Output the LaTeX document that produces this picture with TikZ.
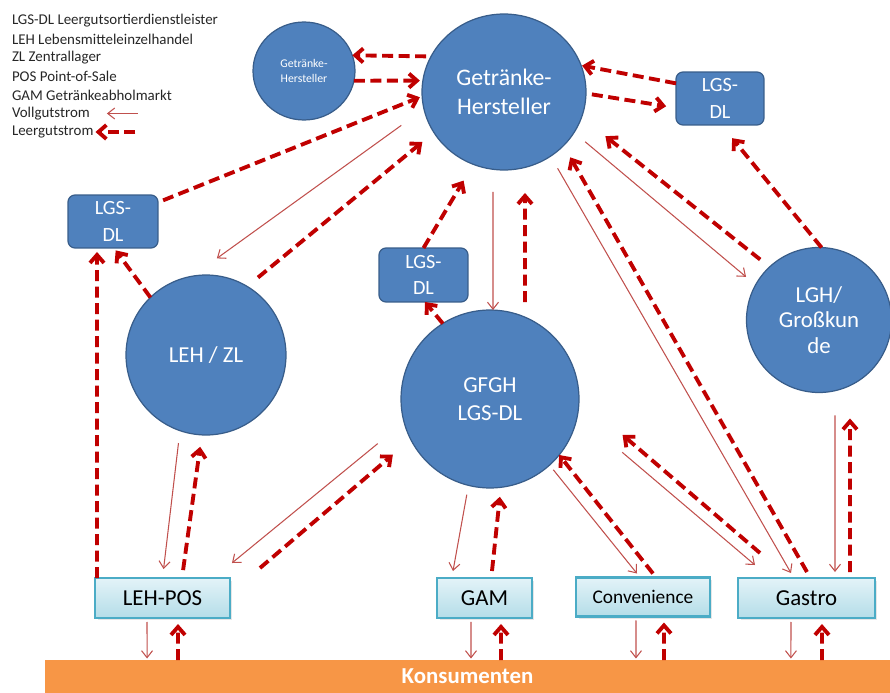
\documentclass[tikz,border=0pt]{standalone}
\usepackage{fontspec}
\setmainfont{Carlito}
\usepackage{tikz}
\usetikzlibrary{arrows.meta,shapes.geometric,shadows}

\definecolor{kreisblau}{HTML}{4F81BD}
\definecolor{kreisrand}{HTML}{385D8A}
\definecolor{leerrot}{HTML}{C00000}
\definecolor{vollrot}{HTML}{C0504D}
\definecolor{posrand}{HTML}{4BACC6}
\definecolor{posoben}{HTML}{E3F3F8}
\definecolor{posunten}{HTML}{B4DDE8}
\definecolor{konsorange}{HTML}{F79646}
\definecolor{legtext}{HTML}{262626}

\newcommand{\sgr}[2]{\fontsize{#1}{#2}\selectfont}

\begin{document}
\begin{tikzpicture}[x=0.02cm, y=-0.02cm]
        \tikzstyle{every node}+=[inner sep=0pt, outer sep=0pt]
        \tikzstyle{kreis}=[ellipse, draw=kreisrand, fill=kreisblau, line width=0.7pt, text=white, align=center]
        \tikzstyle{dlbox}=[rectangle, rounded corners=1.4mm, draw=kreisrand, fill=kreisblau, line width=0.7pt, text=white, align=center, minimum height=1.06cm, font=\sgr{11.5}{15}]
        \tikzstyle{posbox}=[rectangle, draw=posrand, line width=1.2pt, top color=posoben, bottom color=posunten, minimum height=0.8cm, font=\sgr{13}{15}, text=black, drop shadow={opacity=0.2, shadow xshift=0.5mm, shadow yshift=-0.5mm}]
        \tikzstyle{legende}=[anchor=west, text=legtext, font=\sgr{8.5}{10}]
        \tikzstyle{voll}=[vollrot, line width=0.6pt, -{Straight Barb[length=1.4mm,width=2.2mm]}]
        \tikzstyle{leer}=[leerrot, line width=2.2pt, dash pattern=on 2.2mm off 1.1mm, -{Straight Barb[length=1.6mm,width=2.8mm]}]
        \useasboundingbox (0,0) rectangle (890,693);
        \node[legende] (l1) at (12,21) {LGS-DL Leergutsortierdienstleister};
        \node[legende] (l2) at (12,39.5) {LEH Lebensmitteleinzelhandel};
        \node[legende] (l3) at (12,58) {ZL Zentrallager};
        \node[legende] (l4) at (12,76.5) {POS Point-of-Sale};
        \node[legende] (l5) at (12,95) {GAM Getränkeabholmarkt};
        \node[legende] (lv) at (12,113.5) {Vollgutstrom};
        \node[legende] (ll) at (12,132) {Leergutstrom};
        \draw[voll] ([xshift=9.6mm]lv.east) -- ([xshift=3.4mm]lv.east);
        \draw[leer] ([xshift=8.4mm]ll.east) -- ([xshift=0.4mm]ll.east);
        \node[kreis, minimum width=2.04cm, minimum height=1.96cm, font=\sgr{6.7}{9}] (ghs) at (304,71) {Getränke-\\Hersteller};
        \node[kreis, minimum width=3.28cm, minimum height=3.12cm, font=\sgr{13.5}{16.5}] (gh) at (504,92) {Getränke-\\Hersteller};
        \node[dlbox, minimum width=1.76cm] (dlr) at (720,98.5) {LGS-\\DL};
        \node[dlbox, minimum width=1.8cm] (dll) at (113,221.5) {LGS-\\DL};
        \node[dlbox, minimum width=1.78cm, minimum height=1.08cm] (dlm) at (423.5,275) {LGS-\\DL};
        \node[kreis, minimum width=3.2cm, minimum height=3.2cm, font=\sgr{13}{16}] (lehzl) at (206,355) {LEH / ZL};
        \node[kreis, minimum width=3.56cm, minimum height=3.56cm, font=\sgr{13}{16}] (gfgh) at (490,399) {GFGH\\LGS-DL};
        \node[kreis, minimum width=2.9cm, minimum height=2.9cm, font=\sgr{13}{14.7}] (lgh) at (819,320) {LGH/\\Großkun\\de};
        \node[posbox, minimum width=2.7cm] (pos) at (162.5,598) {LEH-POS};
        \node[posbox, minimum width=1.9cm] (gam) at (484.5,598) {GAM};
        \node[posbox, minimum width=2.68cm, minimum height=0.78cm, font=\sgr{11}{13}] (conv) at (643,597) {Convenience};
        \node[posbox, minimum width=2.74cm] (gastro) at (806.5,598) {Gastro};
        \node[fill=konsorange, minimum width=16.9cm, minimum height=0.66cm, text=white, font=\sgr{13}{15}\bfseries] (kons) at (467.5,676.5) {Konsumenten};
        \draw[leer, shorten <=1mm] (gh.154) -- (ghs.18);
        \draw[leer, shorten >=0.6mm] (ghs.-11) -- (gh.172);
        \draw[leer, shorten <=1.1mm, shorten >=0.5mm] (dll.23) -- (gh.183);
        \draw[voll, shorten <=5.6mm, shorten >=6.1mm] (gh.192) -- (lehzl.100);
        \draw[leer, shorten <=2.8mm, shorten >=3mm] (lehzl.59) -- (gh.210);
        \draw[leer, shorten >=0.6mm] (lehzl.134) -- (dll.-88);
        \draw[leer, shorten >=0.8mm] ([xshift=0.4mm]pos.north west) -- ([xshift=5.8mm]dll.south west);
        \draw[voll, shorten <=2.5mm, shorten >=1.8mm] (lehzl.251) -- (pos.north);
        \draw[leer, shorten <=1.6mm, shorten >=2.4mm] ([xshift=3.9mm]pos.north) -- (lehzl.267);
        \draw[voll, shorten <=6.8mm] (gfgh.195) -- ([xshift=0.4mm,yshift=3mm]pos.north east);
        \draw[leer, shorten >=4.7mm] ([xshift=6mm,yshift=2mm]pos.north east) -- (gfgh.207);
        \draw[leer] (gfgh.122) -- ([xshift=0.3mm]dlm.south);
        \draw[leer, shorten >=3.8mm] (dlm.north) -- (gh.247);
        \draw[voll, shorten <=4.4mm] ([xshift=-2.2mm]gh.south) -- ([xshift=0.6mm]gfgh.north);
        \draw[leer, shorten >=4.6mm] ([xshift=7mm,yshift=1.6mm]gfgh.north) -- ([xshift=4.2mm]gh.south);
        \draw[leer, shorten <=1.2mm, shorten >=2mm] (gh.-1) -- (dlr.192);
        \draw[leer, shorten >=0.2mm] (dlr.161) -- (gh.19);
        \draw[leer, shorten <=2.4mm, shorten >=6.1mm] (lgh.133) -- (gh.-18);
        \draw[voll, shorten <=2.9mm, shorten >=2.5mm] (gh.-30) -- (lgh.151);
        \draw[leer, shorten >=3.4mm] (lgh.88) -- (dlr.-87);
        \draw[voll, shorten <=2.8mm] (gh.-54) -- ([xshift=-3.1mm,yshift=1mm]gastro.north);
        \draw[leer, shorten >=2.7mm] ([xshift=0.1mm,yshift=1.2mm]gastro.north) -- (gh.-42);
        \draw[voll, shorten <=1.2mm] (gfgh.-48) -- ([xshift=-1.2mm,yshift=0.8mm]conv.north);
        \draw[leer] ([xshift=2mm,yshift=0.8mm]conv.north) -- (gfgh.-39);
        \draw[voll, shorten <=11.7mm] (gfgh.-10) -- ([xshift=3.4mm,yshift=2.6mm]gastro.north west);
        \draw[leer, shorten >=11.5mm] ([xshift=4.4mm,yshift=5mm]gastro.north west) -- (gfgh.1);
        \draw[voll, shorten <=4.6mm, shorten >=1.2mm] ([xshift=3.2mm]lgh.south) -- ([xshift=5.7mm]gastro.north);
        \draw[leer, shorten <=1.2mm, shorten >=5.2mm] ([xshift=8.7mm]gastro.north) -- ([xshift=6.2mm]lgh.south);
        \draw[voll, shorten <=1.9mm] (gfgh.256) -- ([xshift=-6.3mm,yshift=1.4mm]gam.north);
        \draw[leer, shorten >=1.9mm] ([xshift=1.5mm,yshift=1.4mm]gam.north) -- (gfgh.-83);
        \draw[voll, shorten <=0.8mm, shorten >=0.3mm] ([xshift=-3.1mm]pos.south) -- ([xshift=-64.1mm]kons.north);
        \draw[leer, shorten >=1.2mm] ([xshift=-57.9mm]kons.north) -- ([xshift=3.1mm]pos.south);
        \draw[voll, shorten <=0.8mm, shorten >=0.3mm] ([xshift=-2.7mm]gam.south) -- ([xshift=0.7mm]kons.north);
        \draw[leer, shorten >=1.2mm] ([xshift=6.7mm]kons.north) -- ([xshift=3.3mm]gam.south);
        \draw[voll, shorten <=0.8mm, shorten >=0.3mm] ([xshift=-1.4mm]conv.south) -- ([xshift=33.7mm]kons.north);
        \draw[leer, shorten >=1.2mm] ([xshift=39.3mm]kons.north) -- ([xshift=4.2mm]conv.south);
        \draw[voll, shorten <=0.8mm, shorten >=0.3mm] ([xshift=-3.1mm]gastro.south) -- ([xshift=64.7mm]kons.north);
        \draw[leer, shorten >=1.2mm] ([xshift=70.9mm]kons.north) -- ([xshift=3.1mm]gastro.south);
      \end{tikzpicture}
\end{document}
